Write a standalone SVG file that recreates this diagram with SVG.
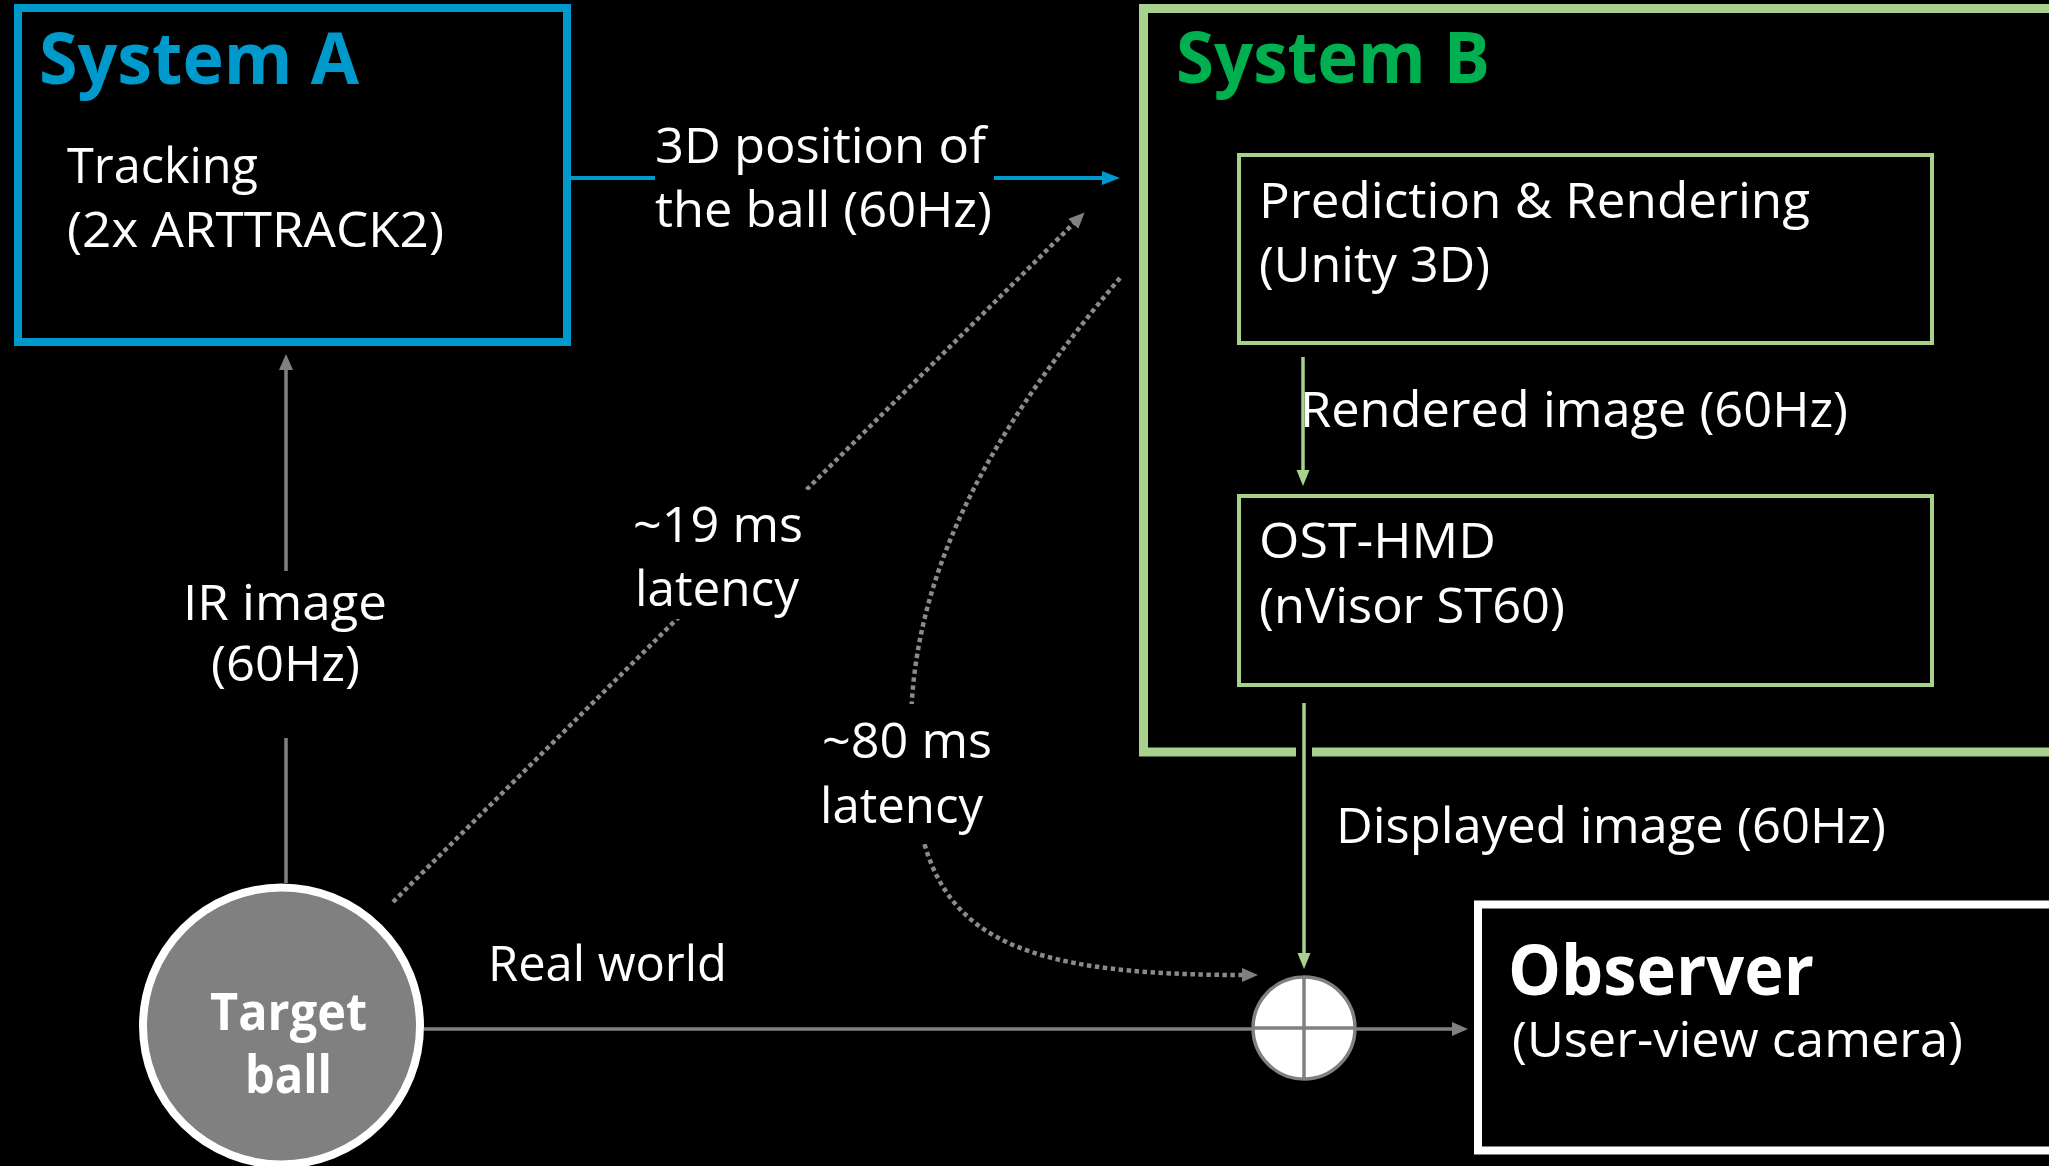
<svg xmlns="http://www.w3.org/2000/svg" width="2049" height="1166" viewBox="0 0 2049 1166">
<style>
.t{font-family:"Open Sans","Noto Sans","DejaVu Sans",sans-serif;font-size:50px;fill:#fff}
.b{font-weight:bold}
.box{fill:#000}
.gl{stroke:#808080;stroke-width:3.5;fill:none}
.dot{stroke:#8a8a8a;stroke-width:4.5;fill:none;stroke-dasharray:4.5 3.5}
.bg{fill:#000}
</style>
<defs>
<marker id="ag" markerUnits="userSpaceOnUse" markerWidth="18" markerHeight="16" refX="1" refY="7" orient="auto"><path d="M0,0 L16,7 L0,14 z" fill="#808080"/></marker>
<marker id="ab" markerUnits="userSpaceOnUse" markerWidth="20" markerHeight="16" refX="1" refY="7" orient="auto"><path d="M0,0 L18,7 L0,14 z" fill="#0099CC"/></marker>
<marker id="agr" markerUnits="userSpaceOnUse" markerWidth="18" markerHeight="16" refX="1" refY="6.5" orient="auto"><path d="M0,0 L16,6.5 L0,13 z" fill="#A9D18E"/></marker>
</defs>
<rect x="0" y="0" width="2049" height="1166" fill="#000"/>

<g id="systemB">
<rect class="box" x="1143.5" y="8.5" width="930" height="743.5" stroke="#A9D18E" stroke-width="9"/>
<text class="t b" x="1176" y="83" style="font-size:72px;fill:#00B050" textLength="314" lengthAdjust="spacingAndGlyphs">System B</text>
</g>

<g id="systemA">
<rect class="box" x="18" y="8" width="549" height="334" stroke="#0099CC" stroke-width="8"/>
<text class="t b" x="39" y="84" style="font-size:72px;fill:#0099CC" textLength="320" lengthAdjust="spacingAndGlyphs">System A</text>
<text class="t" x="67" y="183" textLength="191" lengthAdjust="spacingAndGlyphs">Tracking</text>
<text class="t" x="67" y="247" textLength="377" lengthAdjust="spacingAndGlyphs">(2x ARTTRACK2)</text>
</g>

<g id="prediction">
<rect class="box" x="1239" y="155" width="693" height="188" stroke="#A9D18E" stroke-width="4"/>
<text class="t" x="1259" y="218" textLength="551" lengthAdjust="spacingAndGlyphs">Prediction &amp; Rendering</text>
<text class="t" x="1259" y="282" textLength="231" lengthAdjust="spacingAndGlyphs">(Unity 3D)</text>
</g>

<g id="hmd">
<rect class="box" x="1239" y="496" width="693" height="189" stroke="#A9D18E" stroke-width="4"/>
<text class="t" x="1259" y="558" textLength="237" lengthAdjust="spacingAndGlyphs">OST-HMD</text>
<text class="t" x="1259" y="623" textLength="306" lengthAdjust="spacingAndGlyphs">(nVisor ST60)</text>
</g>

<g id="observer">
<rect class="box" x="1478" y="904.5" width="620" height="246" stroke="#fff" stroke-width="8"/>
<text class="t b" x="1508" y="995" style="font-size:70px" textLength="306" lengthAdjust="spacingAndGlyphs">Observer</text>
<text class="t" x="1512" y="1057" textLength="451" lengthAdjust="spacingAndGlyphs">(User-view camera)</text>
</g>

<g id="connectors">
<line x1="571" y1="178" x2="1103" y2="178" stroke="#0099CC" stroke-width="4" marker-end="url(#ab)"/>
<rect class="bg" x="655" y="112" width="339" height="130"/>
<text class="t" x="655" y="163" textLength="331" lengthAdjust="spacingAndGlyphs">3D position of</text>
<text class="t" x="655" y="227" textLength="337" lengthAdjust="spacingAndGlyphs">the ball (60Hz)</text>

<line class="gl" x1="286" y1="883" x2="286" y2="369" marker-end="url(#ag)"/>
<rect class="bg" x="178" y="571" width="214" height="167"/>
<text class="t" x="183" y="620" textLength="204" lengthAdjust="spacingAndGlyphs">IR image</text>
<text class="t" x="211" y="681" textLength="149" lengthAdjust="spacingAndGlyphs">(60Hz)</text>

<line class="dot" x1="393" y1="902" x2="1074" y2="223" marker-end="url(#ag)"/>
<rect class="bg" x="620" y="490" width="192" height="129"/>
<text class="t" x="633" y="542" textLength="170" lengthAdjust="spacingAndGlyphs">~19 ms</text>
<text class="t" x="635" y="606" textLength="164" lengthAdjust="spacingAndGlyphs">latency</text>

<path class="dot" d="M1120,278 C1000,420 915,560 911,720 C911,920 970,975 1243,975" marker-end="url(#ag)"/>
<rect class="bg" x="812" y="704" width="190" height="140"/>
<text class="t" x="822" y="758" textLength="170" lengthAdjust="spacingAndGlyphs">~80 ms</text>
<text class="t" x="820" y="823" textLength="163" lengthAdjust="spacingAndGlyphs">latency</text>

<line x1="1303" y1="357" x2="1303" y2="471" stroke="#A9D18E" stroke-width="3.5" marker-end="url(#agr)"/>
<text class="t" x="1300" y="427" textLength="548" lengthAdjust="spacingAndGlyphs">Rendered image (60Hz)</text>

<rect class="bg" x="1296" y="745" width="16" height="14"/>
<line x1="1304" y1="703" x2="1304" y2="954" stroke="#A9D18E" stroke-width="3.5" marker-end="url(#agr)"/>
<text class="t" x="1336" y="843" textLength="550" lengthAdjust="spacingAndGlyphs">Displayed image (60Hz)</text>

<line class="gl" x1="424" y1="1029" x2="1453" y2="1029" marker-end="url(#ag)"/>
<text class="t" x="488" y="981" textLength="239" lengthAdjust="spacingAndGlyphs">Real world</text>
</g>

<g id="combiner">
<circle cx="1304" cy="1028" r="51" fill="#fff" stroke="#808080" stroke-width="3.5"/>
<line class="gl" x1="1253" y1="1028" x2="1355" y2="1028"/>
<line class="gl" x1="1304" y1="977" x2="1304" y2="1079"/>
</g>

<g id="targetBall">
<circle cx="281.5" cy="1026" r="138.5" fill="#808080" stroke="#fff" stroke-width="8"/>
<text class="t b" x="210" y="1030" style="font-size:52px" textLength="157" lengthAdjust="spacingAndGlyphs">Target</text>
<text class="t b" x="245" y="1093" style="font-size:52px" textLength="87" lengthAdjust="spacingAndGlyphs">ball</text>
</g>
</svg>
